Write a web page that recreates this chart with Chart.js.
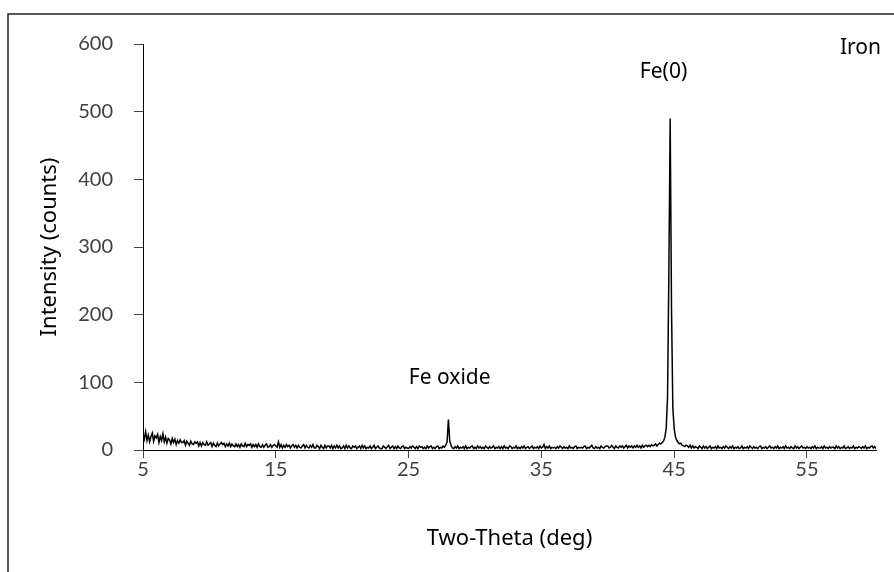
<!DOCTYPE html>
<html>
<head>
<meta charset="utf-8">
<script src="https://cdn.jsdelivr.net/npm/chart.js@4.4.1/dist/chart.umd.min.js"></script>
<style>
  body { margin: 0; background: #fff; }
  #wrap { width: 894px; height: 572px; position: relative; }
</style>
</head>
<body>
<div id="wrap"><canvas id="xrd"></canvas></div>
<script>
// scan grid (deg 2-theta)
const thetaStart = 5.0;
const thetaStep = 0.1;

// intensity (counts), one row per degree, 5.0 ... 60.2
const intensity = [
  24,16,27,14,22,12,20,25,13,21,
  18,23,11,20,14,24,12,19,10,17,
  15,9,17,11,16,8,14,10,15,11,
  11,14,7,13,10,7,13,9,8,12,
  10,12,6,11,6,11,8,7,12,7,
  9,11,5,10,7,5,10,6,9,11,
  8,10,5,9,6,10,5,9,6,5,
  9,5,8,4,9,6,5,10,5,8,
  7,9,4,8,5,8,4,9,5,4,
  8,4,7,9,4,5,8,4,7,8,
  6,4,12,4,8,3,7,4,8,5,
  7,3,6,8,4,7,3,7,4,3,
  6,8,3,7,4,3,7,4,8,3,
  3,7,5,2,7,4,2,7,3,6,
  6,3,7,2,6,3,7,3,6,2,
  3,6,2,7,3,6,3,2,6,4,
  6,2,4,6,2,7,3,6,2,4,
  3,6,2,4,7,2,4,6,3,2,
  2,6,4,2,5,7,2,4,6,2,
  5,2,6,3,2,5,6,2,4,3,
  2,5,3,6,4,2,5,2,6,4,
  5,2,4,2,6,3,5,6,2,4,
  2,5,6,2,4,3,6,4,7,12,
  45,13,7,3,2,5,3,6,2,4,
  3,5,2,6,2,4,3,5,6,2,
  4,2,6,3,5,2,4,2,6,4,
  2,5,3,4,6,2,4,3,5,2,
  5,2,6,3,4,2,6,5,2,4,
  3,6,2,4,2,5,3,6,2,4,
  5,2,4,6,2,4,3,5,2,6,
  3,4,8,2,5,3,6,2,4,3,
  4,2,5,3,6,4,2,5,3,4,
  2,6,3,4,2,5,6,2,4,3,
  4,3,5,6,2,4,3,5,7,3,
  2,5,3,4,2,6,4,3,5,6,
  6,3,4,7,4,2,6,4,3,6,
  4,6,3,5,7,3,6,4,6,3,
  6,4,7,4,6,3,7,4,6,7,
  5,7,5,8,6,7,9,6,8,10,
  9,11,13,19,32,78,260,490,210,62,
  32,19,14,11,9,10,7,6,5,7,
  6,4,7,3,6,3,5,4,2,6,
  4,2,6,3,5,2,4,6,2,4,
  3,5,2,6,3,4,2,5,3,6,
  4,2,5,3,6,2,4,3,5,2,
  3,6,2,4,3,5,2,6,4,2,
  5,3,4,2,5,6,2,4,3,5,
  2,4,6,3,4,2,5,3,6,2,
  4,3,5,2,6,3,4,2,5,3,
  2,6,3,5,2,4,6,3,4,2,
  5,3,4,2,5,3,6,2,4,3,
  3,5,2,6,3,4,2,5,3,4,
  4,2,6,3,5,2,4,3,6,2,
  3,5,2,4,3,6,2,4,3,5,
  4,2,5,3,6,2,4,3,5,6,
  3,5,2
];

const xTicks = [5, 15, 25, 35, 45, 55];
const yTicks = [0, 100, 200, 300, 400, 500, 600];

const peakLabels = ['Fe oxide', 'Fe(0)'];
const peakLabelPos = [[28.1, 98], [44.2, 550]];
const sampleName = 'Iron';

const points = intensity.map((v, i) => ({ x: +(thetaStart + i * thetaStep).toFixed(1), y: v }));

const textFont = '"Noto Sans", "DejaVu Sans", sans-serif';
const tickFont = { family: 'Lato, "Open Sans", sans-serif', size: 20 };

// frame, axis titles and peak labels
const decor = {
  id: 'decor',
  beforeDraw(chart) {
    const c = chart.ctx;
    c.save();
    c.strokeStyle = '#222';
    c.lineWidth = 1.5;
    c.strokeRect(8, 14, 1000, 1000);
    c.restore();
  },
  afterDraw(chart) {
    const c = chart.ctx;
    const xs = chart.scales.x, ys = chart.scales.y;
    c.save();
    c.fillStyle = '#000';
    c.textAlign = 'center';
    c.textBaseline = 'alphabetic';
    c.font = '21px ' + textFont;
    peakLabels.forEach((t, i) => {
      c.fillText(t, xs.getPixelForValue(peakLabelPos[i][0]), ys.getPixelForValue(peakLabelPos[i][1]));
    });
    c.textAlign = 'right';
    c.fillText(sampleName, 881, 54);

    c.font = '22px ' + textFont;
    c.textAlign = 'center';
    c.fillText('Two-Theta (deg)', (chart.chartArea.left + chart.chartArea.right) / 2, 545);
    c.translate(56, (chart.chartArea.top + chart.chartArea.bottom) / 2);
    c.rotate(-Math.PI / 2);
    c.fillText('Intensity (counts)', 0, 0);
    c.restore();
  }
};

new Chart(document.getElementById('xrd'), {
  type: 'line',
  data: {
    datasets: [{
      data: points,
      borderColor: '#000',
      borderWidth: 1.5,
      pointRadius: 0,
      tension: 0,
      fill: false
    }]
  },
  options: {
    responsive: true,
    maintainAspectRatio: false,
    animation: false,
    layout: { padding: { left: 0, right: 18, top: 44, bottom: 0 } },
    plugins: { legend: { display: false }, tooltip: { enabled: false } },
    scales: {
      x: {
        type: 'linear',
        min: 5,
        max: 60.2,
        afterBuildTicks: (s) => { s.ticks = xTicks.map(v => ({ value: v })); },
        afterFit: (s) => { s.height = 122; },
        border: { color: '#000', width: 1 },
        grid: { drawOnChartArea: false, drawTicks: true, tickLength: 8, tickColor: '#444' },
        ticks: { color: '#404040', padding: 0, maxRotation: 0, font: tickFont }
      },
      y: {
        min: 0,
        max: 600,
        afterBuildTicks: (s) => { s.ticks = yTicks.map(v => ({ value: v })); },
        afterFit: (s) => { s.width = 143; },
        border: { color: '#000', width: 1 },
        grid: { drawOnChartArea: false, drawTicks: true, tickLength: 9, tickColor: '#444' },
        ticks: { color: '#404040', padding: 21, font: tickFont }
      }
    }
  },
  plugins: [decor]
});
</script>
</body>
</html>
